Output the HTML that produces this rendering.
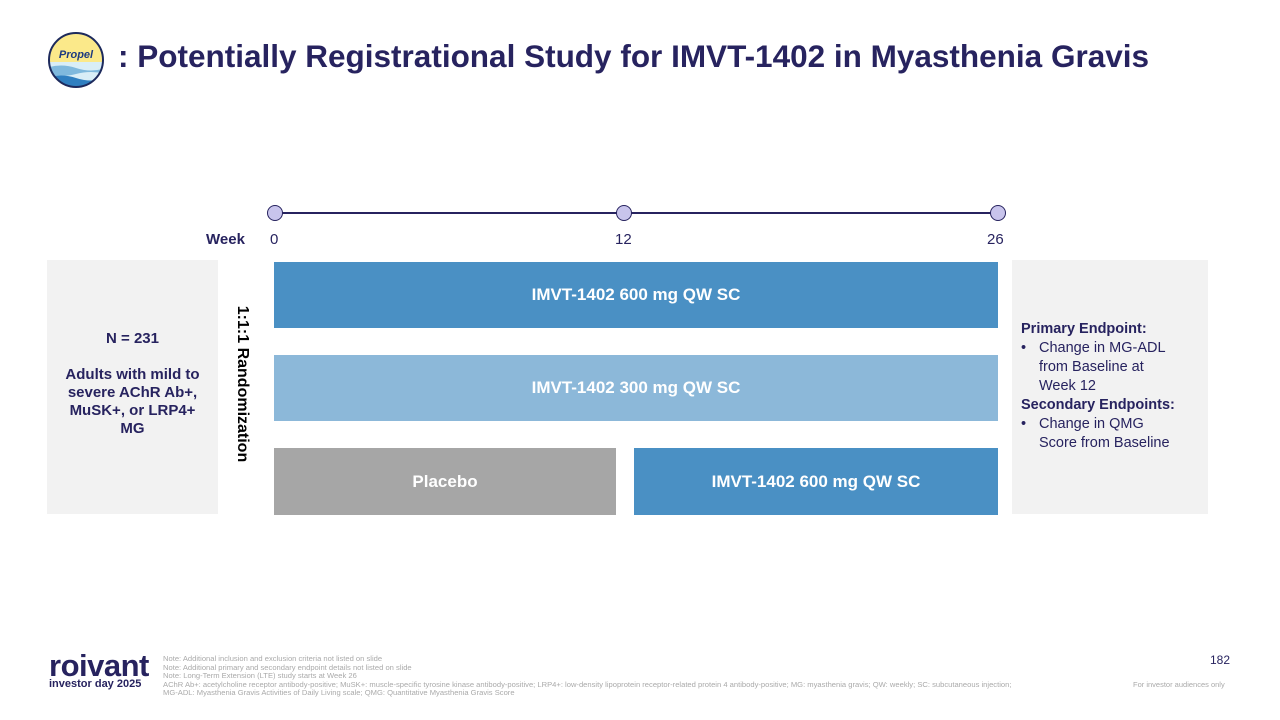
<!DOCTYPE html>
<html><head><style>
body{margin:0;width:1280px;height:720px;background:#fff;font-family:"Liberation Sans",Arial,sans-serif;position:relative;overflow:hidden}
.a{position:absolute}
.bar{position:absolute;color:#fff;font-weight:bold;font-size:17px;display:flex;align-items:center;justify-content:center}
.side{position:absolute;background:#f2f2f2}
.note{position:absolute;left:163px;top:655px;font-size:7.6px;line-height:8.6px;color:#aaa;white-space:nowrap}
</style></head><body>
<svg class="a" style="left:46px;top:30px" width="60" height="60">
<defs><clipPath id="c"><circle cx="30" cy="30" r="27"/></clipPath></defs>
<g clip-path="url(#c)">
<rect width="60" height="60" fill="#fbe98a"/>
<rect y="32" width="60" height="30" fill="#d9eef7"/>
<path d="M0 38 Q15 33 30 38 T60 38 V44 Q45 40 30 44 T0 44Z" fill="#7fb9dd"/>
<path d="M0 48 Q15 43 30 48 T60 48 V60 H0Z" fill="#2f7fc0"/>
</g>
<circle cx="30" cy="30" r="27" fill="none" stroke="#1d2a5c" stroke-width="2"/>
<text x="30" y="28" font-size="11" font-style="italic" font-weight="bold" fill="#1d3a80" text-anchor="middle" font-family="Liberation Sans">Propel</text>
</svg>
<div class="a" style="left:118px;top:38px;font-size:31.5px;font-weight:bold;color:#27235f;white-space:nowrap">: Potentially Registrational Study for IMVT-1402 in Myasthenia Gravis</div>
<svg class="a" style="left:260px;top:200px" width="760" height="30">
<line x1="15" y1="13" x2="738" y2="13" stroke="#27235f" stroke-width="2"/>
<circle cx="15" cy="13" r="7.5" fill="#c8c4ec" stroke="#27235f" stroke-width="1"/>
<circle cx="364" cy="13" r="7.5" fill="#c8c4ec" stroke="#27235f" stroke-width="1"/>
<circle cx="738" cy="13" r="7.5" fill="#c8c4ec" stroke="#27235f" stroke-width="1"/>
</svg>
<div class="a" style="left:206px;top:231px;font-size:15px;font-weight:bold;color:#27235f">Week</div>
<div class="a" style="left:270px;top:231px;font-size:15px;color:#27235f">0</div>
<div class="a" style="left:615px;top:231px;font-size:15px;color:#27235f">12</div>
<div class="a" style="left:987px;top:231px;font-size:15px;color:#27235f">26</div>
<div class="side" style="left:47px;top:260px;width:171px;height:254px"></div>
<div class="a" style="left:57px;top:330px;width:151px;text-align:center;font-size:15px;font-weight:bold;color:#27235f;line-height:18px">N = 231<br><br>Adults with mild to severe AChR Ab+, MuSK+, or LRP4+ MG</div>
<div class="a" style="left:232px;top:290px;width:20px;height:190px">
<div style="position:absolute;left:-85px;top:85px;width:190px;transform:rotate(90deg);text-align:center;font-size:16px;font-weight:bold;color:#000;white-space:nowrap">1:1:1 Randomization</div></div>
<div class="bar" style="left:274px;top:262px;width:724px;height:66px;background:#4a90c4">IMVT-1402 600 mg QW SC</div>
<div class="bar" style="left:274px;top:355px;width:724px;height:66px;background:#8cb8d9">IMVT-1402 300 mg QW SC</div>
<div class="bar" style="left:274px;top:448px;width:342px;height:67px;background:#a6a6a6">Placebo</div>
<div class="bar" style="left:634px;top:448px;width:364px;height:67px;background:#4a90c4">IMVT-1402 600 mg QW SC</div>
<div class="side" style="left:1012px;top:260px;width:196px;height:254px"></div>
<div class="a" style="left:1021px;top:320px;width:185px;font-size:14.5px;line-height:19px;color:#27235f">
<b>Primary Endpoint:</b>
<div style="padding-left:18px;width:145px;position:relative"><span style="position:absolute;left:0">•</span>Change in MG-ADL from Baseline at Week 12</div>
<b>Secondary Endpoints:</b>
<div style="padding-left:18px;width:145px;position:relative"><span style="position:absolute;left:0">•</span>Change in QMG Score from Baseline</div>
</div>
<div class="a" style="left:49px;top:651px;font-size:31px;font-weight:bold;color:#27235f;letter-spacing:-0.5px;line-height:30px">roivant</div>
<div class="a" style="left:49px;top:678px;font-size:11px;font-weight:bold;color:#27235f">investor day 2025</div>
<div class="note">Note: Additional inclusion and exclusion criteria not listed on slide<br>Note: Additional primary and secondary endpoint details not listed on slide<br>Note: Long-Term Extension (LTE) study starts at Week 26<br>AChR Ab+: acetylcholine receptor antibody-positive; MuSK+: muscle-specific tyrosine kinase antibody-positive; LRP4+: low-density lipoprotein receptor-related protein 4 antibody-positive; MG: myasthenia gravis; QW: weekly; SC: subcutaneous injection;<br>MG-ADL: Myasthenia Gravis Activities of Daily Living scale; QMG: Quantitative Myasthenia Gravis Score</div>
<div class="a" style="left:1210px;top:653px;font-size:12px;color:#27235f">182</div>
<div class="a" style="left:1133px;top:680px;font-size:7.5px;color:#aaa">For investor audiences only</div>
</body></html>
